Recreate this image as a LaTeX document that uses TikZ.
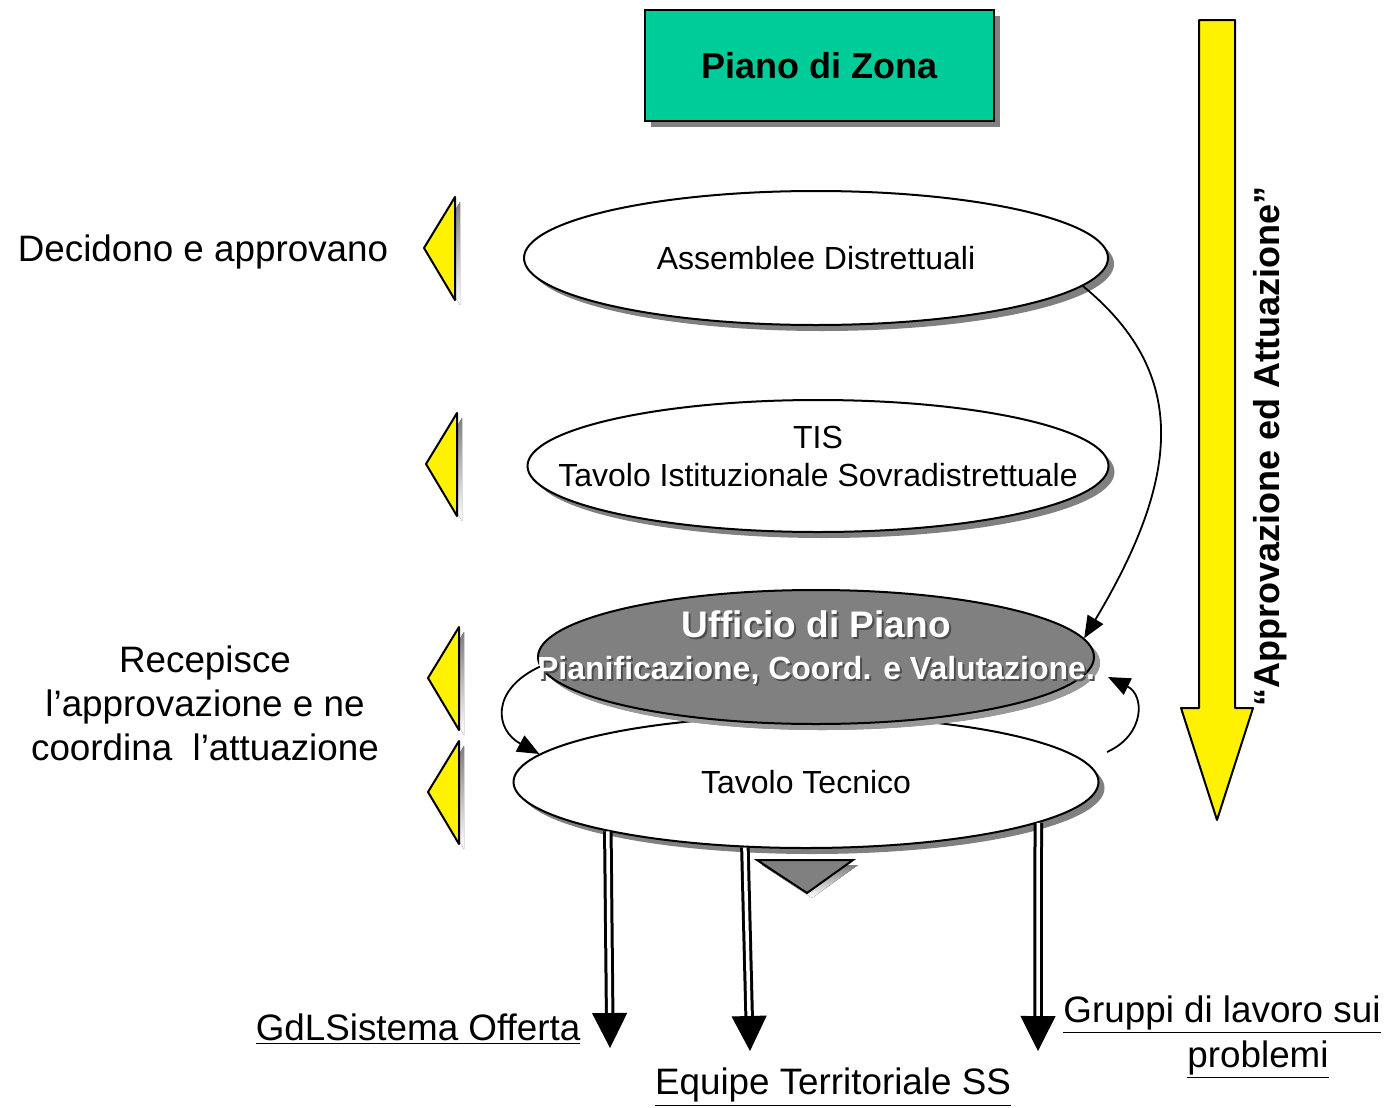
\documentclass[tikz,border=0pt]{standalone}
\usepackage{fontspec}
\setmainfont{Liberation Sans}
\usepackage{tikz}
\usetikzlibrary{shapes,arrows.meta,positioning,calc,shadows}
\usepackage{xcolor}
\definecolor{zona}{HTML}{00CC99}
\definecolor{shade}{HTML}{808080}

\begin{document}
\begin{tikzpicture}[x=0.5pt, y=-0.5pt, line width=1pt]
    \tikzstyle{oval} = [ellipse, draw, fill=white, line width=1pt, inner sep=0pt, align=center, font=\fontsize{16}{19}\selectfont, drop shadow={shadow xshift=3pt, shadow yshift=-3pt, fill=shade, opacity=1}]
    \tikzstyle{side} = [align=center, font=\fontsize{18.4}{22}\selectfont]
    \tikzstyle{goal} = [align=center, font=\fontsize{18.4}{22.5}\selectfont]
    \tikzstyle{uptext} = [align=center, font=\bfseries\fontsize{16}{21}\selectfont]
    \tikzstyle{flag} = [draw, fill=yellow, line width=1pt, line join=round]
    \tikzstyle{conn} = [-{Triangle[length=11pt, width=9pt]}, line width=0.9pt]
    \tikzstyle{dblshaft} = [double, line width=1.5pt, double distance=1.75pt, shorten >=17pt]
    \tikzstyle{bighead} = [-{Triangle[length=17.5pt, width=17.5pt]}, line width=0.5pt]

    \useasboundingbox (0,0) rectangle (1387,1108);

    \node[draw, fill=zona, minimum width=174.5pt, minimum height=55.5pt, font=\bfseries\fontsize{18}{22}\selectfont, drop shadow={shadow xshift=3pt, shadow yshift=-3pt, fill=shade, opacity=1}] (pdz) at (819.5,65.5) {Piano di Zona};

    \node[oval, minimum width=292pt, minimum height=67pt] (ad) at (816,258) {Assemblee Distrettuali};
    \node[oval, minimum width=290.5pt, minimum height=66pt, label={[align=center, font=\fontsize{16}{19}\selectfont, yshift=5pt]center:{TIS\\Tavolo Istituzionale Sovradistrettuale}}] (tis) at (818,466) {};
    \node[oval, minimum width=292.5pt, minimum height=66pt] (tt) at (806,782) {Tavolo Tecnico};
    \node[oval, fill=shade, minimum width=278pt, minimum height=67pt, drop shadow={shadow xshift=3pt, shadow yshift=-3pt, fill=black!40, opacity=1}] (up) at (816,657) {};
    \node[uptext, text=black!70] (upsh) at (818,650) {{\fontsize{18.5}{21}\selectfont Ufficio di Piano}\\Pianificazione, Coord. e Valutazione.};
    \node[uptext, text=white] (upt) at (816,648) {{\fontsize{18.5}{21}\selectfont Ufficio di Piano}\\Pianificazione, Coord. e Valutazione.};

    % left side
    \node[side] (dec) at (203,252) {Decidono e approvano};
    \node[side] (rec) at (205,703) {Recepisce\\l’approvazione e ne\\coordina\ \ l’attuazione};
    \foreach \x/\y in {455/248, 457/464, 459/678, 459/792} {
        \fill[shade] (\x+5,\y-46) -- (\x-26,\y+5) -- (\x+5,\y+57) -- cycle;
        \draw[flag] (\x,\y-51) -- (\x-31,\y) -- (\x,\y+52) -- cycle;
    }

    % big arrow on the right
    \draw[flag] (1199,20) -- (1235,20) -- (1235,708) -- (1253,708) -- (1217,820) -- (1181,708) -- (1199,708) -- cycle;
    \node[rotate=90, font=\bfseries\fontsize{18}{22}\selectfont] (aea) at (1270,446) {“Approvazione ed Attuazione”};

    % connectors
    \coordinate (r0) at (1107,752);
    \coordinate (r1) at (1108,677);
    \draw[conn] (ad.354) .. controls (1185,370) and (1185,470) .. (up.4);
    \draw[conn] (up.182) .. controls (490,690) and (495,730) .. (tt.174);
    \draw[conn] (r0) .. controls (1145,735) and (1145,695) .. (r1);

    % outputs
    \coordinate (g1) at (610,1048);
    \coordinate (g2) at (750,1051);
    \coordinate (g3) at (1038,1051);
    \foreach \a/\g in {194/g1, 227/g2, 350/g3} {
        \draw[dblshaft] (tt.\a) -- (\g);
        \draw[bighead] ($(\g)!17pt!(tt.\a)$) -- (\g);
    }
    \fill[shade] (762,865) -- (858,865) -- (812,898) -- cycle;
    \draw[fill=shade] (757,860) -- (853,860) -- (807,893) -- cycle;

    \node[goal, anchor=east] (gdl) at (588,1029) {\underline{GdLSistema Offerta}};
    \node[goal] (equ) at (833,1087) {\underline{Equipe Territoriale SS}};
    \node[goal] (grp) at (1222,1037) {\underline{Gruppi di lavoro sui}\\\hspace*{36pt}\underline{problemi}};
\end{tikzpicture}
\end{document}
